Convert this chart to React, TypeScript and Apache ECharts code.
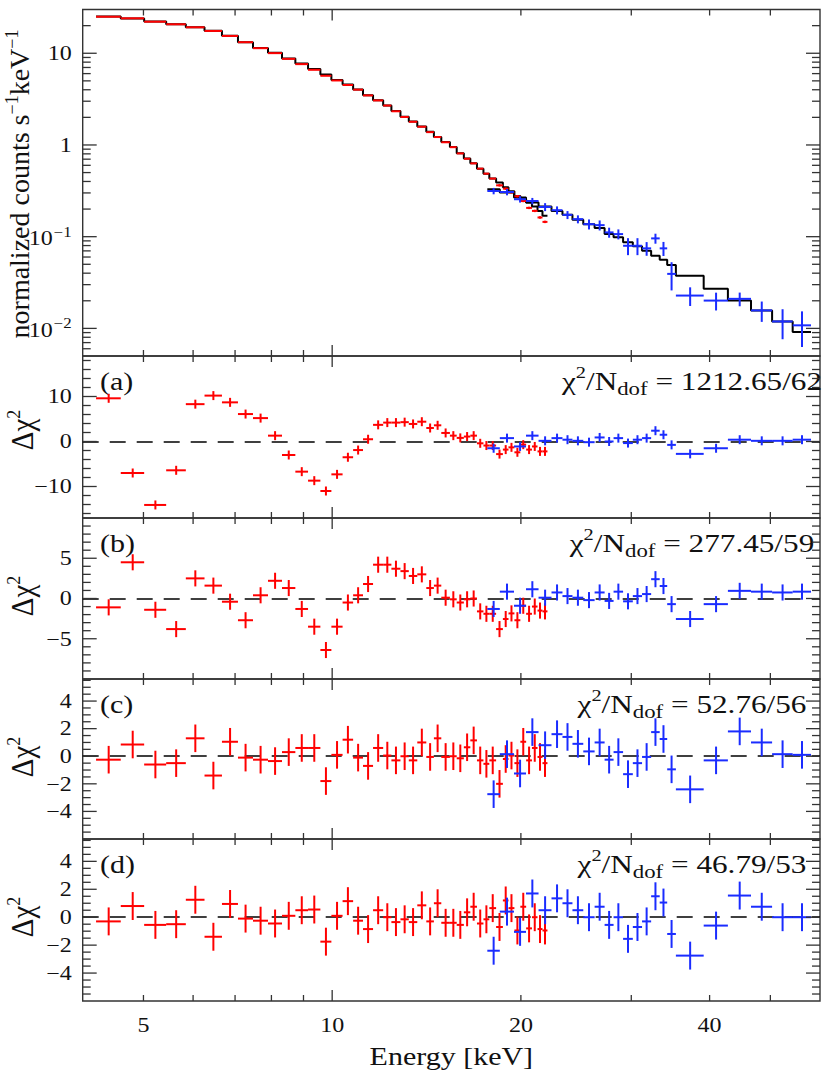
import React, { useEffect, useRef } from "react";
import * as echarts from "echarts";

// ---------------- data ----------------
const energyMin = 4;
const energyMax = 60;
const energyTickLabels = [5, 10, 20, 40];
const energyMajorTicks = [10];
const energyMinorTicks = [5, 6, 7, 8, 9, 20, 30, 40, 50];

// bin edges (keV)
const redEdges = [4.201, 4.6, 5.013, 5.435, 5.842, 6.257, 6.671, 7.075, 7.476, 7.9, 8.317, 8.735, 9.152, 9.576, 9.971, 10.39, 10.8, 11.2, 11.62, 12.06, 12.43, 12.85, 13.25, 13.67, 14.13, 14.53, 14.93, 15.41, 15.8, 16.22, 16.61, 17.02, 17.43, 17.81, 18.26, 18.72, 19.11, 19.53, 19.96, 20.39, 20.83, 21.26, 21.65, 22.05];
const blueEdges = [17.68, 18.51, 19.5, 20.38, 21.34, 22.38, 23.3, 24.17, 25.15, 26.22, 27.2, 28.11, 29.11, 30.17, 31.21, 32.27, 33.3, 34.23, 35.34, 39.14, 42.78, 46.57, 50.32, 54.27, 58.05];

// normalized counts s^-1 keV^-1
const redCounts = [25.03, 24.05, 22.09, 20.7, 19.2, 17.51, 15.45, 13.2, 11.36, 10.03, 8.69, 7.61, 6.6, 5.68, 5.05, 4.51, 4.01, 3.47, 3.06, 2.69, 2.33, 2.02, 1.79, 1.58, 1.38, 1.22, 1.07, 0.946, 0.809, 0.708, 0.63, 0.552, 0.487, 0.43, 0.363, 0.334, 0.305, 0.276, 0.245, 0.206, 0.191, 0.162, 0.145];
const redErrFrac = [0.005, 0.005, 0.005, 0.005, 0.005, 0.005, 0.005, 0.005, 0.005, 0.005, 0.005, 0.005, 0.005, 0.005, 0.005, 0.005, 0.005, 0.005, 0.005, 0.005, 0.005, 0.005, 0.005, 0.005, 0.005, 0.012, 0.012, 0.012, 0.012, 0.012, 0.012, 0.012, 0.012, 0.012, 0.03, 0.03, 0.03, 0.03, 0.03, 0.03, 0.03, 0.03, 0.03];
const redModel = [25.1, 24.0, 22.2, 20.7, 19.2, 17.6, 15.5, 13.2, 11.4, 10.1, 8.75, 7.75, 6.75, 5.85, 5.1, 4.55, 4.03, 3.48, 3.07, 2.7, 2.34, 2.03, 1.8, 1.59, 1.39, 1.22, 1.08, 0.95, 0.81, 0.71, 0.63, 0.552, 0.487, 0.43, 0.389, 0.346, 0.313, 0.278, 0.256, 0.236, 0.213, 0.191, 0.169];
const blueCounts = [0.315, 0.307, 0.256, 0.245, 0.211, 0.1944, 0.1729, 0.1553, 0.137, 0.1336, 0.1114, 0.1067, 0.0796, 0.0796, 0.0746, 0.0958, 0.0746, 0.0393, 0.0228, 0.0201, 0.021, 0.0157, 0.0119, 0.0108];
const blueErrFrac = [0.08, 0.08, 0.08, 0.08, 0.1, 0.1, 0.1, 0.1, 0.125, 0.125, 0.125, 0.125, 0.21, 0.21, 0.17, 0.125, 0.175, 0.34, 0.23, 0.22, 0.17, 0.25, 0.36, 0.42];
const blueModel = [0.329, 0.303, 0.267, 0.236, 0.213, 0.191, 0.1729, 0.1526, 0.137, 0.124, 0.1067, 0.0983, 0.0867, 0.0785, 0.0703, 0.062, 0.0561, 0.0492, 0.0376, 0.027, 0.0201, 0.0157, 0.0119, 0.00914];

// residuals (delta chi^2 units)
const residARed = [9.6, -7.0, -14.1, -6.4, 8.3, 10.2, 8.7, 6.1, 5.2, 1.3, -3.0, -6.7, -8.7, -11.0, -7.3, -3.5, -1.9, 0.5, 3.7, 4.2, 4.2, 4.3, 3.9, 4.4, 3.0, 3.6, 1.9, 1.3, 0.8, 1.1, 1.3, -0.4, -0.9, -0.9, -2.8, -1.8, -1.3, -2.4, -0.7, -1.8, -1.1, -2.2, -2.2];
const residABlue = [-1.5, 0.75, -1.1, 1.3, 0.15, 0.75, 0.4, 0.15, -0.15, 0.9, 0.0, 0.75, -0.35, 0.4, 0.75, 2.4, 1.5, -0.75, -2.75, -1.5, 0.4, 0.15, 0.15, 0.4];
const residBRed = [-1.1, 4.5, -1.4, -3.8, 2.5, 1.6, -0.4, -2.7, 0.4, 2.2, 1.3, -1.3, -3.5, -6.4, -3.5, -0.5, 0.4, 1.8, 4.2, 4.2, 3.7, 3.4, 2.8, 3.0, 1.3, 1.6, 0.1, -0.1, -0.5, -0.1, 0.0, -1.6, -1.9, -1.9, -3.8, -2.55, -1.85, -2.7, -0.9, -1.9, -1.0, -1.5, -1.6];
const residBBlue = [-1.3, 0.85, -0.9, 1.15, 0.1, 0.75, 0.3, 0.1, -0.2, 0.75, -0.3, 0.85, -0.35, 0.3, 0.55, 2.4, 1.55, -0.7, -2.55, -0.7, 0.95, 0.85, 0.75, 0.85];
const residCRed = [-0.25, 0.85, -0.6, -0.5, 1.3, -1.4, 1.05, -0.1, -0.25, -0.35, 0.3, 0.6, 0.6, -1.8, 0.1, 1.2, -0.1, -0.7, 0.6, 0.05, -0.3, 0.0, -0.3, 1.0, -0.05, 1.3, -0.05, 0.0, -0.15, 0.65, 1.15, -0.3, -0.55, -0.3, -2.0, -0.2, 0.05, -0.5, 1.05, -0.3, 0.6, -0.05, -0.5];
const residCBlue = [-2.75, 0.15, -1.25, 1.75, 0.8, 1.6, 1.4, 0.9, 0.35, 1.0, -0.25, 0.3, -1.3, -0.5, -0.05, 1.75, 1.25, -0.95, -2.4, -0.3, 1.8, 1.0, 0.15, 0.1];
const residDRed = [-0.3, 0.8, -0.55, -0.5, 1.25, -1.4, 0.95, -0.1, -0.25, -0.45, 0.1, 0.5, 0.55, -1.75, 0.1, 1.15, -0.25, -0.85, 0.5, 0.0, -0.35, -0.15, -0.35, 0.85, -0.3, 1.0, -0.4, -0.4, -0.55, 0.35, 0.75, -0.45, -0.15, 0.65, -0.7, 1.2, 0.65, -0.95, 0.75, -0.8, 0.0, -0.85, -0.95];
const residDBlue = [-2.4, 0.4, -1.05, 1.7, 0.5, 1.35, 1.0, 0.5, 0.0, 0.75, -0.55, 0.0, -1.55, -0.7, -0.3, 1.5, 1.05, -1.2, -2.75, -0.6, 1.55, 0.75, 0.0, 0.0];

const panelLetters = ["(a)", "(b)", "(c)", "(d)"];
const chiValues = ["1212.65/62", "277.45/59", "52.76/56", "46.79/53"];

const specRange = [0.005, 30];
const specMajor = [0.01, 0.1, 1, 10];
const specMajorLabels = ["{b|10}{p|−2}", "{b|10}{p|−1}", "{b|1}", "{b|10}"];
const residRanges = [[-17, 19], [-10, 10], [-6, 5.6], [-6, 5.6]];
const residMajor = [[-10, 0, 10], [-5, 0, 5], [-4, -2, 0, 2, 4], [-4, -2, 0, 2, 4]];
const residMinorStep = [2, 1, 0.5, 0.5];

// ---------------- style / layout ----------------
const FONT = "'Liberation Serif', 'Times New Roman', Times, serif";
const AXIS = "#333";
const INK = "#111";
const RED = "#ff0000";
const BLUE = "#1a2cff";
const SX = 1.2;
const PLOT_LEFT = 82.7;
const PLOT_RIGHT = 820;
const PANEL_TOP = [9.5, 356, 518, 679, 839];
const PANEL_H = [346.5, 162, 161, 160, 162];
const DCHI_OFFSET = [74, 78, 78, 78];

type Tick = { axis: "x" | "y"; v: number; major: boolean; label?: string; rich?: boolean };

function energyTicks(withLabels: boolean): Tick[] {
  const t: Tick[] = [];
  energyMajorTicks.forEach((v) => t.push({ axis: "x", v, major: true }));
  energyMinorTicks.forEach((v) => t.push({ axis: "x", v, major: false }));
  if (withLabels) t.forEach((k) => { if (energyTickLabels.indexOf(k.v) >= 0) k.label = String(k.v); });
  return t;
}

function specTicks(): Tick[] {
  const t: Tick[] = [];
  specMajor.forEach((v, i) => t.push({ axis: "y", v, major: true, label: specMajorLabels[i], rich: true }));
  for (let e = -3; e <= 1; e++) {
    for (let m = 2; m <= 9; m++) {
      const v = m * Math.pow(10, e);
      if (v > specRange[0] * 1.001 && v < specRange[1] * 0.999) t.push({ axis: "y", v, major: false });
    }
  }
  return t;
}

function residTicks(i: number): Tick[] {
  const t: Tick[] = [];
  const [lo, hi] = residRanges[i];
  residMajor[i].forEach((v) => t.push({ axis: "y", v, major: true, label: v < 0 ? "−" + Math.abs(v) : String(v) }));
  const st = residMinorStep[i];
  for (let k = Math.ceil(lo / st); k <= Math.floor(hi / st); k++) {
    const v = Math.round(k * st * 1000) / 1000;
    if (residMajor[i].indexOf(v) >= 0) continue;
    if (v <= lo + 1e-6 || v >= hi - 1e-6) continue;
    t.push({ axis: "y", v, major: false });
  }
  return t;
}

function tickSeries(gi: number, ticks: Tick[], yRef: number) {
  return {
    type: "custom",
    xAxisIndex: gi,
    yAxisIndex: gi,
    z: 6,
    silent: true,
    clip: false,
    data: ticks.map((t) => (t.axis === "x" ? [t.v, yRef] : [energyMin, t.v])),
    renderItem: (params: any, api: any) => {
      const t = ticks[params.dataIndex];
      const cs = params.coordSys;
      const st = { stroke: AXIS, lineWidth: 1.3 };
      const ch: any[] = [];
      if (t.axis === "x") {
        const px = api.coord([t.v, yRef])[0];
        const len = t.major ? 11 : 6;
        ch.push({ type: "line", shape: { x1: px, y1: cs.y, x2: px, y2: cs.y + len }, style: st });
        ch.push({ type: "line", shape: { x1: px, y1: cs.y + cs.height, x2: px, y2: cs.y + cs.height - len }, style: st });
        if (t.label) {
          ch.push({
            type: "text", x: px, y: cs.y + cs.height + 24, scaleX: SX,
            style: { text: t.label, fontSize: 20, fontFamily: FONT, fill: INK, align: "center", verticalAlign: "middle" },
          });
        }
      } else {
        const py = api.coord([energyMin, t.v])[1];
        const len = t.major ? 14 : 8;
        ch.push({ type: "line", shape: { x1: cs.x, y1: py, x2: cs.x + len, y2: py }, style: st });
        ch.push({ type: "line", shape: { x1: cs.x + cs.width, y1: py, x2: cs.x + cs.width - len, y2: py }, style: st });
        if (t.label) {
          const style: any = { text: t.label, fontSize: 20, fontFamily: FONT, fill: INK, align: "right", verticalAlign: "middle" };
          if (t.rich) {
            style.rich = {
              b: { fontSize: 20, fontFamily: FONT, fill: INK, verticalAlign: "bottom" },
              p: { fontSize: 14, fontFamily: FONT, fill: INK, verticalAlign: "bottom", padding: [0, 0, 10, 1] },
            };
          }
          ch.push({ type: "text", x: cs.x - 11, y: py, scaleX: SX, style });
        }
      }
      return { type: "group", children: ch };
    },
  };
}

function binRows(edges: number[], vals: number[], lo: (i: number) => number, hi: (i: number) => number) {
  return vals.map((v, i) => [edges[i], edges[i + 1], v, lo(i), hi(i)]);
}

function stepPoints(edges: number[], vals: number[]) {
  const pts: number[][] = [];
  vals.forEach((v, i) => { pts.push([edges[i], v]); pts.push([edges[i + 1], v]); });
  return pts;
}

function crossSeries(gi: number, rows: number[][], color: string, lw: number, z: number, extra: any = {}) {
  return {
    type: "custom",
    xAxisIndex: gi,
    yAxisIndex: gi,
    z,
    silent: true,
    clip: false,
    encode: { x: [0, 1], y: [2, 3, 4] },
    data: rows,
    renderItem: (params: any, api: any) => {
      const lo = api.value(0), hi = api.value(1), y = api.value(2), ylo = api.value(3), yhi = api.value(4);
      const xc = (lo + hi) / 2;
      const a = api.coord([lo, y]), b = api.coord([hi, y]);
      const c = api.coord([xc, yhi]), d = api.coord([xc, ylo]);
      const st = { stroke: color, lineWidth: lw };
      return {
        type: "group",
        children: [
          { type: "line", shape: { x1: a[0], y1: a[1], x2: b[0], y2: b[1] }, style: st },
          { type: "line", shape: { x1: c[0], y1: c[1], x2: d[0], y2: d[1] }, style: st },
        ],
      };
    },
    ...extra,
  };
}

function buildOption() {
  const grids = PANEL_TOP.map((top, i) => ({
    left: PLOT_LEFT, top, width: PLOT_RIGHT - PLOT_LEFT, height: PANEL_H[i],
    show: true, borderColor: AXIS, borderWidth: 1.4, backgroundColor: "transparent",
  }));
  const hidden = { axisLine: { show: false }, axisTick: { show: false }, axisLabel: { show: false }, splitLine: { show: false } };
  const xAxes = PANEL_TOP.map((_, i) => ({ type: "log", logBase: 10, gridIndex: i, min: energyMin, max: energyMax, ...hidden }));
  const yAxes: any[] = [{ type: "log", logBase: 10, gridIndex: 0, min: specRange[0], max: specRange[1], ...hidden }];
  residRanges.forEach((r, i) => yAxes.push({ type: "value", gridIndex: i + 1, min: r[0], max: r[1], ...hidden }));

  const series: any[] = [];
  series.push(tickSeries(0, [...energyTicks(false), ...specTicks()], 1));
  for (let i = 0; i < 4; i++) series.push(tickSeries(i + 1, [...energyTicks(i === 3), ...residTicks(i)], 0));

  series.push({ type: "line", xAxisIndex: 0, yAxisIndex: 0, data: stepPoints(redEdges, redModel), symbol: "none", lineStyle: { color: "#000", width: 2 }, z: 2, silent: true });
  series.push({ type: "line", xAxisIndex: 0, yAxisIndex: 0, data: stepPoints(blueEdges, blueModel), symbol: "none", lineStyle: { color: "#000", width: 2 }, z: 2, silent: true });
  series.push(crossSeries(0, binRows(redEdges, redCounts, (i) => redCounts[i] * (1 - redErrFrac[i]), (i) => redCounts[i] * (1 + redErrFrac[i])), RED, 2, 3));
  series.push(crossSeries(0, binRows(blueEdges, blueCounts, (i) => blueCounts[i] * (1 - blueErrFrac[i]), (i) => blueCounts[i] * (1 + blueErrFrac[i])), BLUE, 2, 4));

  const residRed = [residARed, residBRed, residCRed, residDRed];
  const residBlue = [residABlue, residBBlue, residCBlue, residDBlue];
  for (let i = 0; i < 4; i++) {
    const gi = i + 1;
    const rr = residRed[i], bb = residBlue[i];
    series.push(crossSeries(gi, binRows(redEdges, rr, (k) => rr[k] - 1, (k) => rr[k] + 1), RED, 2, 3, {
      markLine: {
        silent: true, symbol: ["none", "none"], label: { show: false },
        lineStyle: { color: "#000", width: 1.6, type: [16, 11] },
        data: [{ yAxis: 0 }],
        z: 1,
      },
    }));
    series.push(crossSeries(gi, binRows(blueEdges, bb, (k) => bb[k] - 1, (k) => bb[k] + 1), BLUE, 2, 4));
  }

  const graphic: any[] = [];
  graphic.push({
    type: "text", x: 18, y: 184, rotation: Math.PI / 2,
    style: {
      text: "{m|normalized counts s}{s|−1}{m|keV}{s|−1}",
      rich: {
        m: { fontSize: 28, fontFamily: FONT, fill: INK, verticalAlign: "bottom" },
        s: { fontSize: 18, fontFamily: FONT, fill: INK, verticalAlign: "bottom", padding: [0, 0, 13, 0] },
      },
      align: "center", verticalAlign: "middle",
    },
  });
  for (let i = 0; i < 4; i++) {
    const top = PANEL_TOP[i + 1];
    graphic.push({
      type: "text", x: 21, y: top + DCHI_OFFSET[i], rotation: Math.PI / 2, scaleY: 1.1,
      style: {
        text: "{m|Δχ}{s|2}",
        rich: {
          m: { fontSize: 29, fontFamily: FONT, fill: INK, verticalAlign: "bottom" },
          s: { fontSize: 18, fontFamily: FONT, fill: INK, verticalAlign: "bottom", padding: [0, 0, 14, 0] },
        },
        align: "center", verticalAlign: "middle",
      },
    });
    graphic.push({
      type: "text", x: 100, y: top + 25, scaleX: SX,
      style: { text: panelLetters[i], fontSize: 25, fontFamily: FONT, fill: INK, align: "left", verticalAlign: "middle" },
    });
    graphic.push({
      type: "text", x: 692, y: top + 25, scaleX: SX,
      style: {
        text: "{m|χ}{s|2}{m|/N}{d|dof}{m| = " + chiValues[i] + "}",
        rich: {
          m: { fontSize: 26, fontFamily: FONT, fill: INK, verticalAlign: "bottom", padding: [0, 0, 5, 0] },
          s: { fontSize: 17, fontFamily: FONT, fill: INK, verticalAlign: "bottom", padding: [0, 0, 18, 0] },
          d: { fontSize: 19, fontFamily: FONT, fill: INK, verticalAlign: "bottom", padding: [0, 0, 0, 0] },
        },
        align: "center", verticalAlign: "middle",
      },
    });
  }
  graphic.push({
    type: "text", x: (PLOT_LEFT + PLOT_RIGHT) / 2, y: 1056, scaleX: SX,
    style: { text: "Energy [keV]", fontSize: 25, fontFamily: FONT, fill: INK, align: "center", verticalAlign: "middle" },
  });

  return {
    animation: false,
    backgroundColor: "#fff",
    grid: grids,
    xAxis: xAxes,
    yAxis: yAxes,
    series,
    graphic,
  };
}

export default function App() {
  const ref = useRef<HTMLDivElement>(null);
  useEffect(() => {
    const chart = echarts.init(ref.current!, null, { renderer: "svg" });
    chart.setOption(buildOption() as any);
    return () => chart.dispose();
  }, []);
  return (
    <div
      ref={ref}
      style={{ position: "absolute", left: 0, top: 0, width: 830, height: 1081, background: "#fff" }}
    />
  );
}
